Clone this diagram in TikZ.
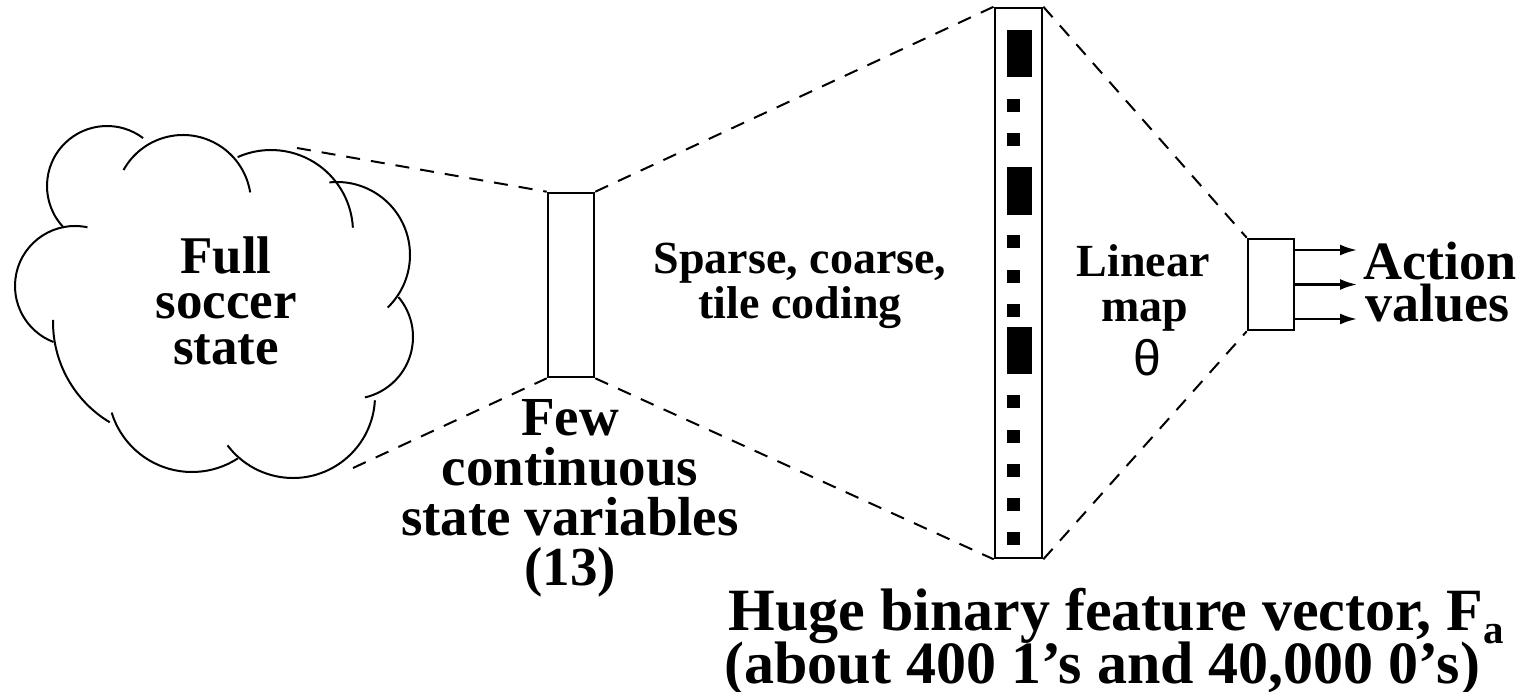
\documentclass[tikz,border=0pt]{standalone}
\usepackage{fontspec}
\setmainfont{Liberation Serif}
\newfontfamily\greekfont{Liberation Sans}
\usetikzlibrary{arrows.meta}

% one bump of the cloud outline: centre (#1,#2), radius #3, from angle #4 to #5
\newcommand{\cloudbump}[5]{%
  \draw[cloudline] ([shift={(#4:#3)}]#1,#2) arc (#4:#5:#3);}

\tikzset{
  cloudline/.style={line width=1pt},
  boxline/.style={draw, line width=1.3pt},
  guide/.style={line width=1pt, dash pattern=on 7pt off 5.5pt},
  bit/.style={fill=black, draw=none},
  outarrow/.style={line width=1.2pt, -{Latex[length=8.5pt,width=5.5pt]}},
  txt/.style={inner sep=0pt, anchor=base, font=\bfseries\fontsize{#1}{#1}\selectfont},
}

\begin{document}
\begin{tikzpicture}[x=0.5pt, y=-0.5pt]
\useasboundingbox (0,0) rectangle (1530,691);

% cloud: full soccer state
\cloudbump{107}{186}{60}{136}{307}
\cloudbump{183}{203}{68}{209}{351}
\cloudbump{271}{232}{82}{246}{357}
\cloudbump{337}{255}{73}{264}{406}
\cloudbump{351}{337}{62}{320}{437}
\cloudbump{293}{396}{82}{3}{143}
\cloudbump{192}{388}{84}{57}{163}
\cloudbump{170}{322}{117}{181}{121}
\cloudbump{75}{286}{60}{282}{111}
\coordinate (cloudTop) at (297,148);
\coordinate (cloudBot) at (353,468);

\node[txt=26.5] (full1) at (226,273) {Full};
\node[txt=26.5] (full2) at (226,318) {soccer};
\node[txt=26.5] (full3) at (226,364) {state};

% few continuous state variables
\node[boxline, minimum width=23pt, minimum height=92pt, inner sep=0pt] (vars) at (571,285) {};
\node[txt=27.5] (few1) at (570,435) {Few};
\node[txt=27.5] (few2) at (570,485) {continuous};
\node[txt=27.5] (few3) at (570,535) {state variables};
\node[txt=27.5] (few4) at (570,585) {(13)};

% tile coding
\node[txt=23] (tile1) at (800,273) {Sparse, coarse,};
\node[txt=23] (tile2) at (800,318) {tile coding};

% huge binary feature vector
\node[boxline, minimum width=23.5pt, minimum height=275pt, inner sep=0pt] (vec) at (1018.5,283) {};
\foreach \y/\h in {30.4/47, 167/47.6, 326.8/47.6}
  \fill[bit] (1007,\y) rectangle (1032,\y+\h);
\foreach \y in {99.2, 133, 235, 269.6, 303.7, 395, 429.7, 463.5, 497.9, 531.6}
  \fill[bit] (1007,\y) rectangle (1020,\y+13);

\node[txt=30, anchor=base west] (huge1) at (728,630) {Huge binary feature vector, F\raisebox{-0.22em}{\fontsize{20.5}{20.5}\selectfont a}};
\node[txt=30, anchor=base west] (huge2) at (724,683) {(about 400 1’s and 40,000 0’s)};

% linear map
\node[txt=23] (lin1) at (1143,276) {Linear};
\node[txt=23] (lin2) at (1145,321) {map};
\node[inner sep=0pt, font=\greekfont\fontsize{25}{25}\selectfont] (theta) at (1147,358) {θ};

% action values
\node[boxline, minimum width=23pt, minimum height=45.5pt, inner sep=0pt] (act) at (1271,284.5) {};
\coordinate (a1) at (1357,250);
\coordinate (a2) at (1357,284.5);
\coordinate (a3) at (1357,319);
\draw[outarrow] (act.east |- a1) -- (a1);
\draw[outarrow] (act.east |- a2) -- (a2);
\draw[outarrow] (act.east |- a3) -- (a3);
\node[txt=27, anchor=base west] (val1) at (1363,279) {Action};
\node[txt=27, anchor=base west] (val2) at (1365,321) {values};

% projection guides
\draw[guide] (cloudTop) -- (vars.north west);
\draw[guide] (cloudBot) -- (vars.south west);
\draw[guide] (vars.north east) -- (vec.north west);
\draw[guide] (vars.south east) -- (vec.south west);
\draw[guide] (vec.north east) -- (act.north west);
\draw[guide] (vec.south east) -- (act.south west);
\end{tikzpicture}
\end{document}
